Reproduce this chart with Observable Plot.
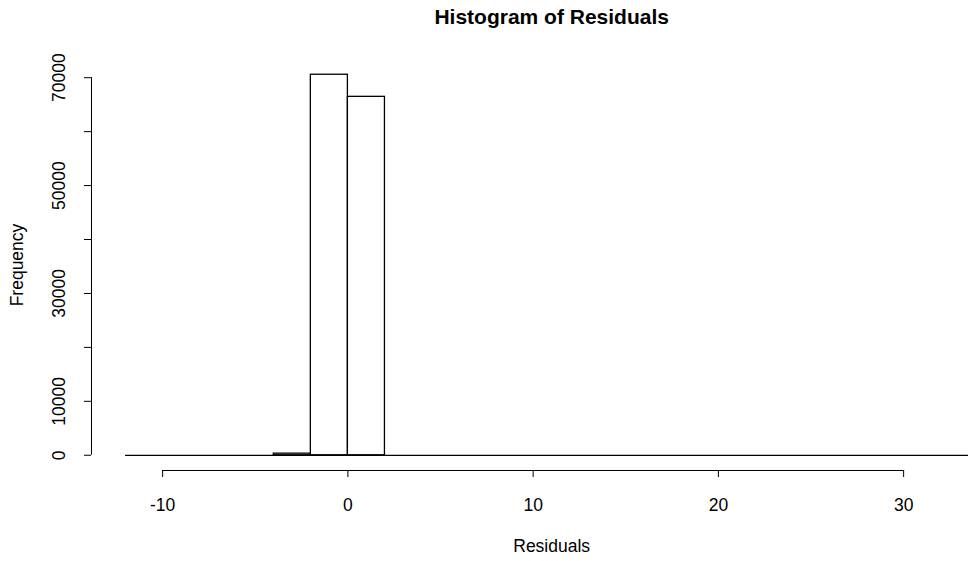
<!DOCTYPE html>
<html>
<head>
<meta charset="utf-8">
<script src="https://cdn.jsdelivr.net/npm/d3@7"></script>
<script src="https://cdn.jsdelivr.net/npm/@observablehq/plot@0.6"></script>
<style>
  html, body { margin: 0; padding: 0; background: #fff; }
  svg { display: block; }
</style>
</head>
<body>
<div id="chart"></div>
<script>
// Histogram bin breaks (width 2) and counts
const breaks = [-12,-10,-8,-6,-4,-2,0,2,4,6,8,10,12,14,16,18,20,22,24,26,28,30,32,34];
const counts = [0,0,0,0,300,70550,66450,0,0,0,0,0,0,0,0,0,0,0,0,0,0,0,0];
const xTicks = [-10, 0, 10, 20, 30];
const yTicks = [0, 10000, 20000, 30000, 40000, 50000, 60000, 70000];
const yLabeled = [0, 10000, 30000, 50000, 70000];
const title = "Histogram of Residuals";
const xLabel = "Residuals";
const yLabel = "Frequency";

const bins = counts.map((c, i) => ({x1: breaks[i], x2: breaks[i + 1], count: c}));

// R-style 4% axis extension
const bx0 = breaks[0], bx1 = breaks[breaks.length - 1];
const ext = (bx1 - bx0) * 0.04;
const ymax = d3.max(counts);
const yext = ymax * 0.04;
const W = 968, H = 561, ML = 91, MT = 59, MB = 91;
const pxPerUnit = 741 / 40;
const xRightEdge = bx0 - ext + (W - ML) / pxPerUnit;

const font = "Liberation Sans, Arial, sans-serif";
const fs = 17.5;

const chart = Plot.plot({
  width: W,
  height: H,
  marginLeft: ML,
  marginRight: 0,
  marginTop: MT,
  marginBottom: MB,
  style: {fontFamily: font, fontSize: fs + "px", color: "#000", background: "#fff"},
  x: {domain: [bx0 - ext, xRightEdge], axis: null},
  y: {domain: [-yext, ymax + yext], axis: null},
  marks: [
    // bars
    Plot.rect(bins.filter(d => d.count > 0), {x1: "x1", x2: "x2", y1: 0, y2: "count", fill: "#fff", stroke: "#000", strokeWidth: 1.3}),
    // zero-height bins form the baseline
    Plot.ruleY([0], {x1: bx0, x2: bx1, stroke: "#000", strokeWidth: 1.3}),
    // x axis
    Plot.ruleY([-yext], {x1: d3.min(xTicks), x2: d3.max(xTicks), stroke: "#000", strokeWidth: 1}),
    Plot.axisX(xTicks, {anchor: "bottom", tickSize: 7, tickPadding: 21, fontSize: fs, label: null, tickFormat: d => String(d)}),
    // y axis
    Plot.ruleX([bx0 - ext], {y1: d3.min(yTicks), y2: d3.max(yTicks), stroke: "#000", strokeWidth: 1}),
    Plot.axisY(yTicks, {anchor: "left", tickSize: 7, tickPadding: 20, tickRotate: -90, fontSize: fs, label: null,
      tickFormat: d => yLabeled.includes(d) ? String(d) : ""}),
    // title and axis titles
    Plot.text([title], {x: (bx0 + bx1) / 2, frameAnchor: "top", lineAnchor: "middle", dy: -42, fontWeight: "bold", fontSize: 21, text: d => d}),
    Plot.text([xLabel], {x: (bx0 + bx1) / 2, frameAnchor: "bottom", lineAnchor: "middle", dy: 76, fontSize: fs, text: d => d}),
    Plot.text([yLabel], {y: ymax / 2, frameAnchor: "left", textAnchor: "middle", lineAnchor: "middle", dx: -74, rotate: -90, fontSize: fs, text: d => d})
  ]
});
document.getElementById("chart").appendChild(chart);
</script>
</body>
</html>
